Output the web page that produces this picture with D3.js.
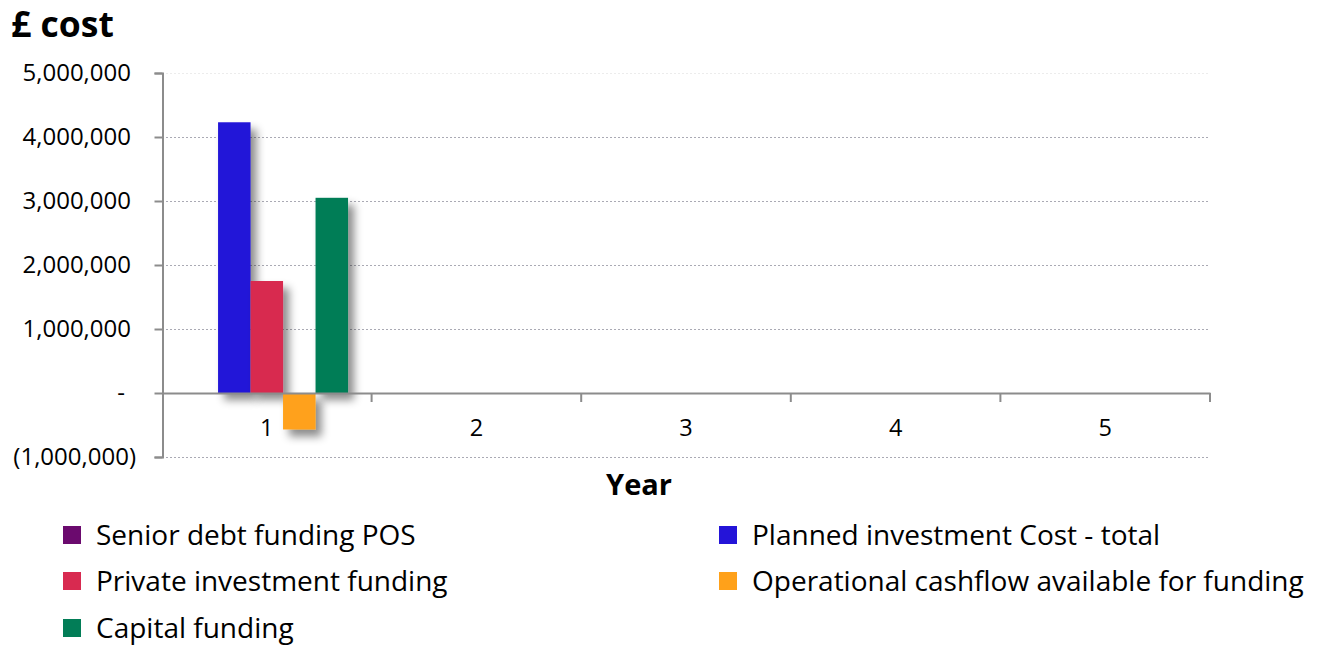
<!DOCTYPE html>
<html>
<head>
<meta charset="utf-8">
<script src="https://cdn.jsdelivr.net/npm/d3@7"></script>
<style>
  html, body { margin: 0; padding: 0; background: #fff; }
  svg { display: block; font-family: "Open Sans", "Noto Sans", sans-serif; }
</style>
</head>
<body>
<svg id="chart" width="1322" height="647"></svg>
<script>
// Funding sources by year
const years = ["1", "2", "3", "4", "5"];
const seriesNames = [
  "Senior debt funding POS",
  "Planned investment Cost - total",
  "Private investment funding",
  "Operational cashflow available for funding",
  "Capital funding"
];
const seriesColors = ["#6b0a6e", "#2414d8", "#d82a50", "#ffa11a", "#027d57"];
const seniorDebt = [0, 0, 0, 0, 0];
const plannedInvestment = [4230000, 0, 0, 0, 0];
const privateInvestment = [1750000, 0, 0, 0, 0];
const operationalCashflow = [-570000, 0, 0, 0, 0];
const capitalFunding = [3050000, 0, 0, 0, 0];
const yTicks = [-1000000, 0, 1000000, 2000000, 3000000, 4000000, 5000000];

const seriesValues = [seniorDebt, plannedInvestment, privateInvestment, operationalCashflow, capitalFunding];

const svg = d3.select("#chart");
const plot = { left: 162, right: 1210, top: 73, bottom: 457 };

const y = d3.scaleLinear().domain([-1000000, 5000000]).range([plot.bottom, plot.top]);
const x0 = d3.scaleBand().domain(years).range([plot.left, plot.right]).paddingInner(0).paddingOuter(0);
const x1 = d3.scaleBand().domain(d3.range(seriesNames.length))
  .range([0, x0.bandwidth()]).paddingInner(0).paddingOuter(0.725);

// drop shadow for the bars
const defs = svg.append("defs");
const f = defs.append("filter").attr("id", "shadow")
  .attr("x", "-50%").attr("y", "-50%").attr("width", "200%").attr("height", "200%");
f.append("feDropShadow").attr("dx", 6).attr("dy", 7).attr("stdDeviation", 4.5)
  .attr("flood-color", "#000").attr("flood-opacity", 0.45);

// gridlines
svg.append("g").selectAll("line")
  .data(yTicks.filter(d => d !== 0))
  .join("line")
  .attr("x1", plot.left).attr("x2", plot.right)
  .attr("y1", d => Math.round(y(d)) + 0.5).attr("y2", d => Math.round(y(d)) + 0.5)
  .attr("stroke", d => (d === 5000000 ? "#ececec" : "#aaaab4"))
  .attr("stroke-width", 1)
  .attr("stroke-dasharray", "2,2");

// bars
const groups = svg.append("g").selectAll("g")
  .data(years.map((yr, i) => ({ yr, vals: seriesValues.map(s => s[i]) })))
  .join("g")
  .attr("transform", d => `translate(${x0(d.yr)},0)`);

groups.selectAll("rect")
  .data(d => d.vals.map((v, k) => ({ v, k })).filter(e => e.v !== 0))
  .join("rect")
  .attr("x", e => x1(e.k))
  .attr("width", x1.bandwidth())
  .attr("y", e => y(Math.max(0, e.v)))
  .attr("height", e => Math.abs(y(e.v) - y(0)))
  .attr("fill", e => seriesColors[e.k])
  .attr("filter", "url(#shadow)");

// y axis
const fmt = d3.format(",");
const yAxis = d3.axisLeft(y).tickValues(yTicks).tickSize(8).tickPadding(0).tickFormat("");
const yg = svg.append("g").attr("transform", `translate(${plot.left + 0.5},0)`).call(yAxis);
yg.select(".domain").attr("stroke", "#8c8c8c").attr("stroke-width", 2);
yg.selectAll(".tick line").attr("stroke", "#8c8c8c").attr("stroke-width", 2);

svg.append("g").selectAll("text")
  .data(yTicks)
  .join("text")
  .attr("x", d => (d < 0 ? 136 : d === 0 ? 125 : 131))
  .attr("y", d => y(d) + 8)
  .attr("text-anchor", "end")
  .attr("font-size", 24)
  .attr("fill", "#000")
  .text(d => (d === 0 ? "-" : d < 0 ? `(${fmt(-d)})` : fmt(d)));

// x axis at zero
const xAxis = d3.axisBottom(x0).tickSize(0).tickFormat("");
const xg = svg.append("g").attr("transform", `translate(0,${Math.round(y(0))})`).call(xAxis);
xg.select(".domain").attr("stroke", "#8c8c8c").attr("stroke-width", 2);
svg.append("g").selectAll("line")
  .data(years)
  .join("line")
  .attr("x1", d => x0(d) + x0.bandwidth()).attr("x2", d => x0(d) + x0.bandwidth())
  .attr("y1", y(0)).attr("y2", y(0) + 9)
  .attr("stroke", "#8c8c8c").attr("stroke-width", 2);

svg.append("g").selectAll("text")
  .data(years)
  .join("text")
  .attr("x", d => x0(d) + x0.bandwidth() / 2)
  .attr("y", 436)
  .attr("text-anchor", "middle")
  .attr("font-size", 23.5)
  .text(d => d);

// titles
svg.append("text").attr("x", 11).attr("y", 37)
  .attr("font-size", 35.5).attr("font-weight", "bold").text("£ cost");
svg.append("text").attr("x", 639).attr("y", 495)
  .attr("text-anchor", "middle").attr("font-size", 29).attr("font-weight", "bold").text("Year");

// legend
const legendPos = [
  { x: 63, y: 535 }, { x: 719, y: 535 },
  { x: 63, y: 581 }, { x: 719, y: 581 },
  { x: 63, y: 628 }
];
const lg = svg.append("g").selectAll("g")
  .data(seriesNames)
  .join("g")
  .attr("transform", (d, i) => `translate(${legendPos[i].x},${legendPos[i].y})`);
lg.append("rect").attr("x", 0).attr("y", -9).attr("width", 18).attr("height", 18)
  .attr("fill", (d, i) => seriesColors[i]);
lg.append("text").attr("x", 33).attr("y", 10).attr("font-size", 28).text(d => d);
</script>
</body>
</html>
